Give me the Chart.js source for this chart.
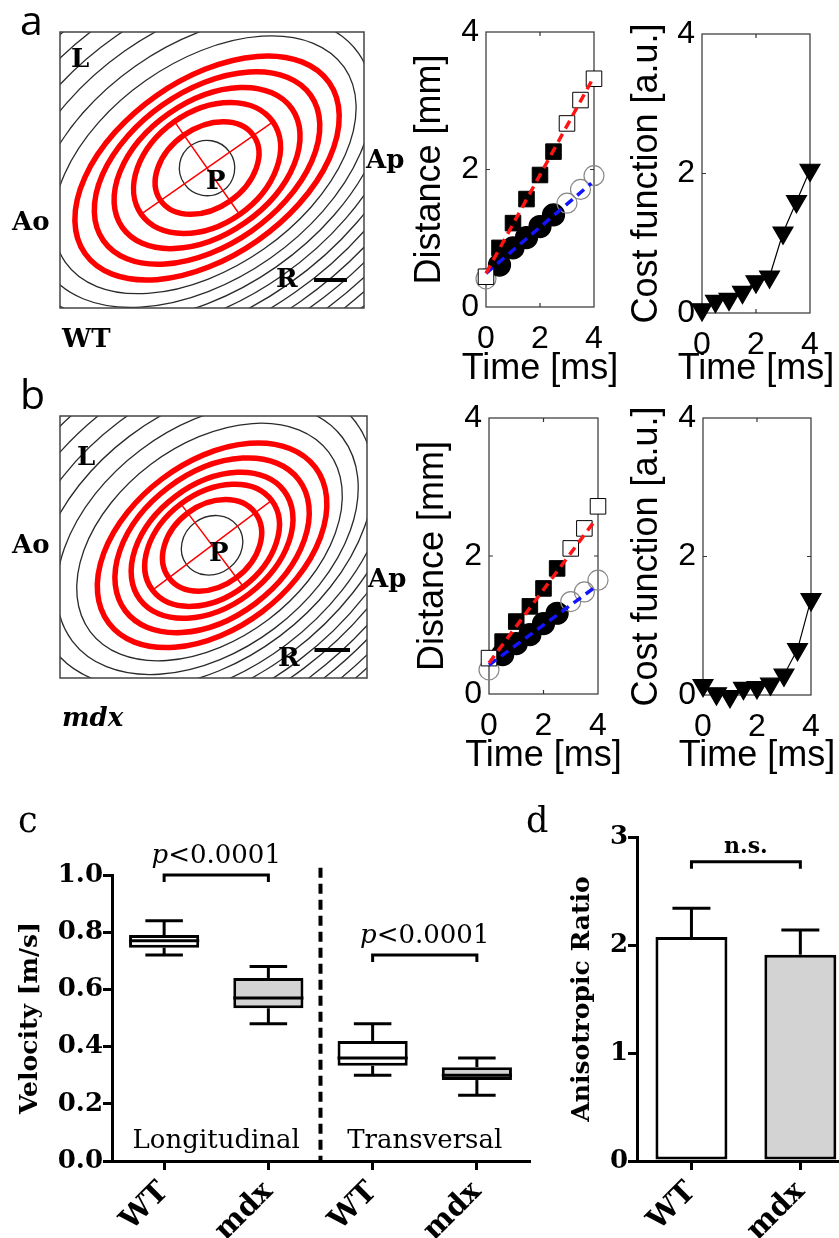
<!DOCTYPE html>
<html>
<head>
<meta charset="utf-8">
<title>Conduction velocity WT vs mdx</title>
<script src="https://cdn.jsdelivr.net/npm/chart.js@4.4.1/dist/chart.umd.min.js"></script>
<style>
  body { margin: 0; background: #fff; }
  #page { position: relative; width: 839px; height: 1238px; overflow: hidden; background: #fff; }
  canvas { position: absolute; }
  .lbl { position: absolute; line-height: 1; white-space: nowrap; color: #000; }
  .map { font-family: 'DejaVu Serif', serif; font-weight: bold; font-size: 26px; }
  .letter { font-family: 'Open Sans', sans-serif; font-size: 41px; }
  .letter2 { font-family: 'DejaVu Serif', serif; font-size: 35px; }
</style>
</head>
<body>
<div id="page">
  <canvas id="mapWT" width="400" height="390" style="left:0;top:0"></canvas>
  <canvas id="costWT" width="224" height="390" style="left:615px;top:0"></canvas>
  <canvas id="distWT" width="225" height="390" style="left:400px;top:0"></canvas>
  <canvas id="mapMdx" width="400" height="390" style="left:0;top:390px"></canvas>
  <canvas id="costMdx" width="224" height="390" style="left:615px;top:390px"></canvas>
  <canvas id="distMdx" width="225" height="390" style="left:400px;top:390px"></canvas>
  <canvas id="velocity" width="540" height="448" style="left:0;top:790px"></canvas>
  <canvas id="ratio" width="299" height="448" style="left:540px;top:790px"></canvas>

  <div class="lbl letter" style="left:20px;top:-1px">a</div>
  <div class="lbl letter" style="left:20px;top:373px">b</div>
  <div class="lbl letter2" style="left:18px;top:803px">c</div>
  <div class="lbl letter2" style="left:526px;top:803px">d</div>

  <div class="lbl map" style="left:71px;top:45px">L</div>
  <div class="lbl map" style="left:12px;top:208px">Ao</div>
  <div class="lbl map" style="left:206px;top:167px">P</div>
  <div class="lbl map" style="left:366px;top:146px">Ap</div>
  <div class="lbl map" style="left:276px;top:265px">R</div>
  <div class="lbl map" style="left:62px;top:325px">WT</div>

  <div class="lbl map" style="left:77px;top:443px">L</div>
  <div class="lbl map" style="left:12px;top:531px">Ao</div>
  <div class="lbl map" style="left:209px;top:539px">P</div>
  <div class="lbl map" style="left:368px;top:565px">Ap</div>
  <div class="lbl map" style="left:278px;top:644px">R</div>
  <div class="lbl map" style="left:62px;top:704px;font-style:italic">mdx</div>
</div>

<script>
const sans = "'Liberation Sans', Arial, sans-serif";
const serif = "'DejaVu Serif', serif";

// a, b: distance travelled along the long / transverse fibre axis
const timeMs = [0, 0.5, 1, 1.5, 2, 2.5, 3, 3.5, 4];
const usedInFit = [false, true, true, true, true, true, false, false, false];
const fitTimeMs = [0, 3.9];

const wtLongMm = [0.44, 0.86, 1.22, 1.57, 1.92, 2.26, 2.67, 3.01, 3.32];
const wtTransMm = [0.41, 0.61, 0.86, 1.01, 1.17, 1.34, 1.51, 1.71, 1.91];
const wtLongFitMm = [0.49, 3.28];
const wtTransFitMm = [0.49, 1.80];
const wtCost = [0.05, 0.17, 0.2, 0.3, 0.45, 0.52, 1.15, 1.6, 2.05];

const mdxLongMm = [0.52, 0.76, 1.05, 1.27, 1.53, 1.82, 2.11, 2.40, 2.72];
const mdxTransMm = [0.35, 0.57, 0.73, 0.86, 1.02, 1.17, 1.34, 1.48, 1.65];
const mdxLongFitMm = [0.45, 2.52];
const mdxTransFitMm = [0.42, 1.55];
const mdxCost = [0.14, 0.02, -0.02, 0.1, 0.11, 0.16, 0.29, 0.66, 1.38];

// isochrone maps (mm)
const wtMapSizeMm = [4.61, 4.18];
const wtMapCentreMm = [2.23, 2.06];
const wtMapAngleDeg = 35;
const wtContourMajor = [0.42, 2.58, 2.88, 3.18, 3.48, 3.78, 4.08, 4.38, 4.68, 4.98, 5.28, 5.58, 5.88];
const wtContourMinor = [0.42, 1.56, 1.78, 2.0, 2.21, 2.43, 2.64, 2.86, 3.07, 3.29, 3.5, 3.72, 3.93];
const wtContourShift = [0, 0.06, 0.11, 0.17, 0.22, 0.28, 0.33, 0.39, 0.44, 0.5, 0.55, 0.61, 0.66];

const mdxMapSizeMm = [4.32, 3.83];
const mdxMapCentreMm = [2.14, 1.89];
const mdxMapAngleDeg = 37;
const mdxContourMajor = [0.45, 2.1, 2.38, 2.66, 2.94, 3.22, 3.5, 3.78, 4.06, 4.34, 4.62, 4.9, 5.18, 5.46];
const mdxContourMinor = [0.4, 1.37, 1.57, 1.76, 1.96, 2.15, 2.35, 2.54, 2.74, 2.93, 3.13, 3.32, 3.52, 3.71];
const mdxContourShift = [0, 0.06, 0.11, 0.17, 0.22, 0.28, 0.33, 0.39, 0.44, 0.5, 0.55, 0.61, 0.66, 0.72];

// c: conduction velocity box plots
const velocityGroups = ['WT', 'mdx', 'WT', 'mdx'];
const velocityMin = [0.72, 0.48, 0.30, 0.23];
const velocityQ1 = [0.746, 0.534, 0.333, 0.283];
const velocityMedian = [0.77, 0.57, 0.36, 0.30];
const velocityQ3 = [0.79, 0.64, 0.42, 0.328];
const velocityMax = [0.84, 0.68, 0.48, 0.36];
const directions = ['Longitudinal', 'Transversal'];
const velocityP = ['<0.0001', '<0.0001'];
const velocityBracketAt = [1.0, 0.72];

// d: anisotropic ratio
const ratioGroups = ['WT', 'mdx'];
const ratioMean = [2.075, 1.91];
const ratioSem = [0.265, 0.23];

const boxFills = ['#ffffff', '#d3d3d3', '#ffffff', '#d3d3d3'];

function xy(xs, ys) {
  return xs.map((v, i) => ({ x: v, y: ys[i] }));
}

// MATLAB style closed box with inner tick marks
const matlabBox = {
  id: 'matlabBox',
  beforeDatasetsDraw(chart) {
    const { ctx, chartArea: a, scales: { x, y } } = chart;
    ctx.save();
    ctx.strokeStyle = '#333';
    ctx.lineWidth = 1.2;
    ctx.strokeRect(a.left, a.top, a.right - a.left, a.bottom - a.top);
    ctx.beginPath();
    x.ticks.forEach(t => {
      const p = x.getPixelForValue(t.value);
      if (p > a.left + 1 && p < a.right - 1) {
        ctx.moveTo(p, a.top); ctx.lineTo(p, a.top + 4);
        ctx.moveTo(p, a.bottom); ctx.lineTo(p, a.bottom - 4);
      }
    });
    y.ticks.forEach(t => {
      const p = y.getPixelForValue(t.value);
      if (p > a.top + 1 && p < a.bottom - 1) {
        ctx.moveTo(a.left, p); ctx.lineTo(a.left + 4, p);
        ctx.moveTo(a.right, p); ctx.lineTo(a.right - 4, p);
      }
    });
    ctx.stroke();
    ctx.restore();
  }
};

// axis titles drawn by hand so they are not squeezed to the narrow plot width
function axisTitles(xText, yText, xTitleY, yTitleX) {
  return {
    id: 'axisTitles',
    afterDraw(chart) {
      const { ctx, chartArea: a } = chart;
      ctx.save();
      ctx.fillStyle = '#000';
      ctx.font = '36px ' + sans;
      ctx.textAlign = 'center';
      ctx.textBaseline = 'middle';
      ctx.fillText(xText, (a.left + a.right) / 2, xTitleY);
      ctx.translate(yTitleX, (a.top + a.bottom) / 2);
      ctx.rotate(-Math.PI / 2);
      ctx.fillText(yText, 0, 0);
      ctx.restore();
    }
  };
}

function matlabOptions(pad, yWidth, xHeight) {
  const tickFont = { family: sans, size: 32 };
  return {
    responsive: false,
    animation: false,
    layout: { padding: pad },
    plugins: { legend: { display: false }, tooltip: { enabled: false } },
    scales: {
      x: {
        type: 'linear', min: 0, max: 4,
        ticks: { stepSize: 2, font: tickFont, color: '#000', padding: 13, maxRotation: 0 },
        grid: { display: false, drawTicks: false },
        border: { display: false },
        afterFit: s => { s.height = xHeight; }
      },
      y: {
        type: 'linear', min: 0, max: 4,
        ticks: { stepSize: 2, font: tickFont, color: '#000', padding: 7 },
        grid: { display: false, drawTicks: false },
        border: { display: false },
        afterFit: s => { s.width = yWidth; }
      }
    }
  };
}

function distanceChart(id, longMm, transMm, longFit, transFit, pad, yWidth, xHeight, titleY, titleX) {
  return new Chart(document.getElementById(id), {
    type: 'scatter',
    data: {
      datasets: [
        { data: xy(fitTimeMs, longFit), showLine: true, borderColor: '#ff1414', borderWidth: 3.5, borderDash: [9, 6], pointRadius: 0, order: 0, clip: false },
        { data: xy(fitTimeMs, transFit), showLine: true, borderColor: '#1414ff', borderWidth: 3.5, borderDash: [9, 6], pointRadius: 0, order: 0, clip: false },
        {
          data: xy(timeMs, longMm), pointStyle: 'rect', pointRadius: 11,
          pointBackgroundColor: usedInFit.map(f => f ? '#000' : '#fff'),
          pointBorderColor: '#000', pointBorderWidth: 1, order: 1, clip: false
        },
        {
          data: xy(timeMs, transMm), pointStyle: 'circle',
          pointRadius: usedInFit.map(f => f ? 11 : 10),
          pointBackgroundColor: usedInFit.map(f => f ? '#000' : 'rgba(255,255,255,0)'),
          pointBorderColor: usedInFit.map(f => f ? '#000' : '#888'),
          pointBorderWidth: 1.2, order: 2, clip: false
        }
      ]
    },
    options: matlabOptions(pad, yWidth, xHeight),
    plugins: [matlabBox, axisTitles('Time [ms]', 'Distance [mm]', titleY, titleX)]
  });
}

function costChart(id, cost, pad, yWidth, xHeight, titleY, titleX) {
  return new Chart(document.getElementById(id), {
    type: 'scatter',
    data: {
      datasets: [{
        data: xy(timeMs, cost), showLine: true, borderColor: '#000', borderWidth: 1.2,
        pointStyle: 'triangle', rotation: 180, pointRadius: 11.5,
        pointBackgroundColor: '#000', pointBorderColor: '#000', clip: false
      }]
    },
    options: matlabOptions(pad, yWidth, xHeight),
    plugins: [matlabBox, axisTitles('Time [ms]', 'Cost function [a.u.]', titleY, titleX)]
  });
}

function isochrones(longMm, transMm, centre, angleDeg, cMajor, cMinor, cShift) {
  return {
    id: 'isochrones',
    afterDraw(chart) {
      const { ctx, chartArea: area, scales: { x, y } } = chart;
      const k = x.getPixelForValue(1) - x.getPixelForValue(0);
      const th = angleDeg * Math.PI / 180;
      const s = Math.sin(th), c = Math.cos(th);
      const cx = x.getPixelForValue(centre[0]);
      const cy = y.getPixelForValue(centre[1]);
      ctx.save();
      ctx.beginPath();
      ctx.rect(area.left, area.top, area.right - area.left, area.bottom - area.top);
      ctx.clip();
      // activation contours
      ctx.strokeStyle = '#2a2a2a';
      ctx.lineWidth = 1.3;
      cMajor.forEach((a, i) => {
        const ex = x.getPixelForValue(centre[0] - cShift[i] * s);
        const ey = y.getPixelForValue(centre[1] - cShift[i] * c);
        ctx.beginPath();
        ctx.ellipse(ex, ey, a * k, cMinor[i] * k, -th, 0, Math.PI * 2);
        ctx.stroke();
      });
      // fitted ellipses, one per fitted time point
      ctx.strokeStyle = '#ff0000';
      ctx.lineWidth = 5.5;
      longMm.forEach((a, i) => {
        if (!usedInFit[i]) return;
        ctx.beginPath();
        ctx.ellipse(cx, cy, a * k, transMm[i] * k, -th, 0, Math.PI * 2);
        ctx.stroke();
      });
      ctx.lineWidth = 1.5;
      const a2 = longMm[2] * k, b2 = transMm[2] * k;
      ctx.beginPath();
      ctx.moveTo(cx - a2 * c, cy + a2 * s); ctx.lineTo(cx + a2 * c, cy - a2 * s);
      ctx.moveTo(cx - b2 * s, cy - b2 * c); ctx.lineTo(cx + b2 * s, cy + b2 * c);
      ctx.stroke();
      ctx.restore();

      ctx.save();
      ctx.strokeStyle = '#444';
      ctx.lineWidth = 1.5;
      ctx.strokeRect(area.left, area.top, area.right - area.left, area.bottom - area.top);
      // 0.5 mm scale bar
      ctx.strokeStyle = '#000';
      ctx.lineWidth = 4;
      ctx.beginPath();
      ctx.moveTo(area.right - 17 - 0.5 * k, area.bottom - 28);
      ctx.lineTo(area.right - 17, area.bottom - 28);
      ctx.stroke();
      ctx.restore();
    }
  };
}

function mapChart(id, size, pad, plugin) {
  return new Chart(document.getElementById(id), {
    type: 'scatter',
    data: { datasets: [] },
    options: {
      responsive: false,
      animation: false,
      layout: { padding: pad },
      plugins: { legend: { display: false }, tooltip: { enabled: false } },
      scales: {
        x: { type: 'linear', display: false, min: 0, max: size[0] },
        y: { type: 'linear', display: false, min: 0, max: size[1], reverse: true }
      }
    },
    plugins: [plugin]
  });
}

mapChart('mapWT', wtMapSizeMm, { left: 60, top: 32, right: 36, bottom: 82 },
  isochrones(wtLongMm, wtTransMm, wtMapCentreMm, wtMapAngleDeg, wtContourMajor, wtContourMinor, wtContourShift));
mapChart('mapMdx', mdxMapSizeMm, { left: 60, top: 26, right: 33, bottom: 102 },
  isochrones(mdxLongMm, mdxTransMm, mdxMapCentreMm, mdxMapAngleDeg, mdxContourMajor, mdxContourMinor, mdxContourShift));

distanceChart('distWT', wtLongMm, wtTransMm, wtLongFitMm, wtTransFitMm, { top: 32, right: 31 }, 86, 83, 369, 30);
distanceChart('distMdx', mdxLongMm, mdxTransMm, mdxLongFitMm, mdxTransFitMm, { top: 28, right: 27 }, 89, 86, 366, 33);
costChart('costWT', wtCost, { top: 34, right: 29 }, 87, 77, 369, 32);
costChart('costMdx', mdxCost, { top: 28, right: 28 }, 88, 85, 366, 32);

// c: box plots
const boxPlot = {
  id: 'boxPlot',
  afterDatasetsDraw(chart) {
    const { ctx, scales: { x, y } } = chart;
    const step = x.getPixelForValue(1) - x.getPixelForValue(0);
    const boxHalf = step * 0.673 / 2, capHalf = step * 0.18;
    const seg = (x1, y1, x2, y2) => { ctx.beginPath(); ctx.moveTo(x1, y1); ctx.lineTo(x2, y2); ctx.stroke(); };
    ctx.save();
    ctx.strokeStyle = '#000';
    ctx.lineWidth = 3;
    velocityMedian.forEach((m, i) => {
      const cx = x.getPixelForValue(i);
      const ym = y.getPixelForValue(m);
      seg(cx - boxHalf, ym, cx + boxHalf, ym);
      seg(cx, y.getPixelForValue(velocityQ3[i]), cx, y.getPixelForValue(velocityMax[i]));
      seg(cx - capHalf, y.getPixelForValue(velocityMax[i]), cx + capHalf, y.getPixelForValue(velocityMax[i]));
      seg(cx, y.getPixelForValue(velocityQ1[i]), cx, y.getPixelForValue(velocityMin[i]));
      seg(cx - capHalf, y.getPixelForValue(velocityMin[i]), cx + capHalf, y.getPixelForValue(velocityMin[i]));
    });
    // separator between longitudinal and transversal
    const sx = (x.getPixelForValue(1) + x.getPixelForValue(2)) / 2;
    ctx.lineWidth = 4;
    ctx.setLineDash([10, 6]);
    seg(sx, y.getPixelForValue(1.025), sx, y.getPixelForValue(0));
    ctx.setLineDash([]);
    // brackets, p values, direction names
    ctx.lineWidth = 3;
    directions.forEach((name, g) => {
      const x0 = x.getPixelForValue(2 * g), x1 = x.getPixelForValue(2 * g + 1);
      const yl = y.getPixelForValue(velocityBracketAt[g]);
      ctx.beginPath();
      ctx.moveTo(x0, yl + 7); ctx.lineTo(x0, yl); ctx.lineTo(x1, yl); ctx.lineTo(x1, yl + 7);
      ctx.stroke();
      const mid = (x0 + x1) / 2;
      ctx.fillStyle = '#000';
      ctx.textBaseline = 'alphabetic';
      ctx.textAlign = 'left';
      ctx.font = 'italic 26px ' + serif;
      const w1 = ctx.measureText('p').width;
      ctx.font = '26px ' + serif;
      const w2 = ctx.measureText(velocityP[g]).width;
      const start = mid - (w1 + w2) / 2;
      ctx.font = 'italic 26px ' + serif;
      ctx.fillText('p', start, yl - 12);
      ctx.font = '26px ' + serif;
      ctx.fillText(velocityP[g], start + w1, yl - 12);
      ctx.textAlign = 'center';
      ctx.fillText(name, mid, y.getPixelForValue(0.045));
    });
    ctx.restore();
  }
};

new Chart(document.getElementById('velocity'), {
  type: 'bar',
  data: {
    labels: velocityGroups,
    datasets: [{
      data: velocityQ1.map((q, i) => [q, velocityQ3[i]]),
      backgroundColor: boxFills,
      borderColor: '#000',
      borderWidth: 3,
      borderSkipped: false,
      barPercentage: 0.673,
      categoryPercentage: 1
    }]
  },
  options: {
    responsive: false,
    animation: false,
    layout: { padding: { top: 85, right: 11 } },
    plugins: { legend: { display: false }, tooltip: { enabled: false } },
    scales: {
      x: {
        grid: { drawOnChartArea: false, offset: false, tickLength: 9, lineWidth: 3, color: '#000' },
        border: { width: 3, color: '#000' },
        ticks: { font: { family: serif, weight: 'bold', size: 29 }, color: '#000', minRotation: 45, maxRotation: 45, padding: 5 },
        afterFit: s => { s.height = 77; }
      },
      y: {
        min: 0, max: 1,
        ticks: { stepSize: 0.2, callback: v => v.toFixed(1), font: { family: serif, weight: 'bold', size: 26 }, color: '#000', padding: 0 },
        grid: { drawOnChartArea: false, tickLength: 9, lineWidth: 3, color: '#000' },
        border: { width: 3, color: '#000' },
        title: { display: true, text: 'Velocity [m/s]', font: { family: serif, weight: 'bold', size: 25 }, color: '#000', padding: { top: 15, bottom: 0 } },
        afterFit: s => { s.width = 112; }
      }
    }
  },
  plugins: [boxPlot]
});

// d: bar with SEM
const ratioExtras = {
  id: 'ratioExtras',
  afterDatasetsDraw(chart) {
    const { ctx, scales: { x, y } } = chart;
    ctx.save();
    ctx.strokeStyle = '#000';
    ctx.lineWidth = 3;
    ratioMean.forEach((m, i) => {
      const cx = x.getPixelForValue(i);
      const top = y.getPixelForValue(m + ratioSem[i]);
      ctx.beginPath();
      ctx.moveTo(cx, y.getPixelForValue(m)); ctx.lineTo(cx, top);
      ctx.moveTo(cx - 19, top); ctx.lineTo(cx + 19, top);
      ctx.stroke();
    });
    const x0 = x.getPixelForValue(0), x1 = x.getPixelForValue(1);
    const yl = y.getPixelForValue(2.77);
    ctx.beginPath();
    ctx.moveTo(x0, yl + 7); ctx.lineTo(x0, yl); ctx.lineTo(x1, yl); ctx.lineTo(x1, yl + 7);
    ctx.stroke();
    ctx.fillStyle = '#000';
    ctx.font = 'bold 22px ' + serif;
    ctx.textAlign = 'center';
    ctx.fillText('n.s.', (x0 + x1) / 2, yl - 9);
    ctx.restore();
  }
};

new Chart(document.getElementById('ratio'), {
  type: 'bar',
  data: {
    datasets: [{
      data: ratioMean.map((m, i) => ({ x: i, y: m })),
      backgroundColor: ['#ffffff', '#d3d3d3'],
      borderColor: '#000',
      borderWidth: 3,
      borderSkipped: false,
      barPercentage: 0.661,
      categoryPercentage: 1
    }]
  },
  options: {
    responsive: false,
    animation: false,
    layout: { padding: { top: 47, right: 0 } },
    plugins: { legend: { display: false }, tooltip: { enabled: false } },
    scales: {
      x: {
        type: 'linear', min: -0.5, max: 1.355, offset: false,
        afterBuildTicks: s => { s.ticks = ratioGroups.map((g, i) => ({ value: i })); },
        grid: { drawOnChartArea: false, offset: false, tickLength: 9, lineWidth: 3, color: '#000' },
        border: { width: 3, color: '#000' },
        ticks: { autoSkip: false, callback: v => ratioGroups[v], font: { family: serif, weight: 'bold', size: 29 }, color: '#000', minRotation: 45, maxRotation: 45, padding: 5 },
        afterFit: s => { s.height = 77; }
      },
      y: {
        min: 0, max: 3,
        ticks: { stepSize: 1, font: { family: serif, weight: 'bold', size: 26 }, color: '#000', padding: 0 },
        grid: { drawOnChartArea: false, tickLength: 9, lineWidth: 3, color: '#000' },
        border: { width: 3, color: '#000' },
        title: { display: true, text: 'Anisotropic Ratio', font: { family: serif, weight: 'bold', size: 25 }, color: '#000', padding: { top: 27, bottom: 0 } },
        afterFit: s => { s.width = 97; }
      }
    }
  },
  plugins: [ratioExtras]
});
</script>
</body>
</html>
